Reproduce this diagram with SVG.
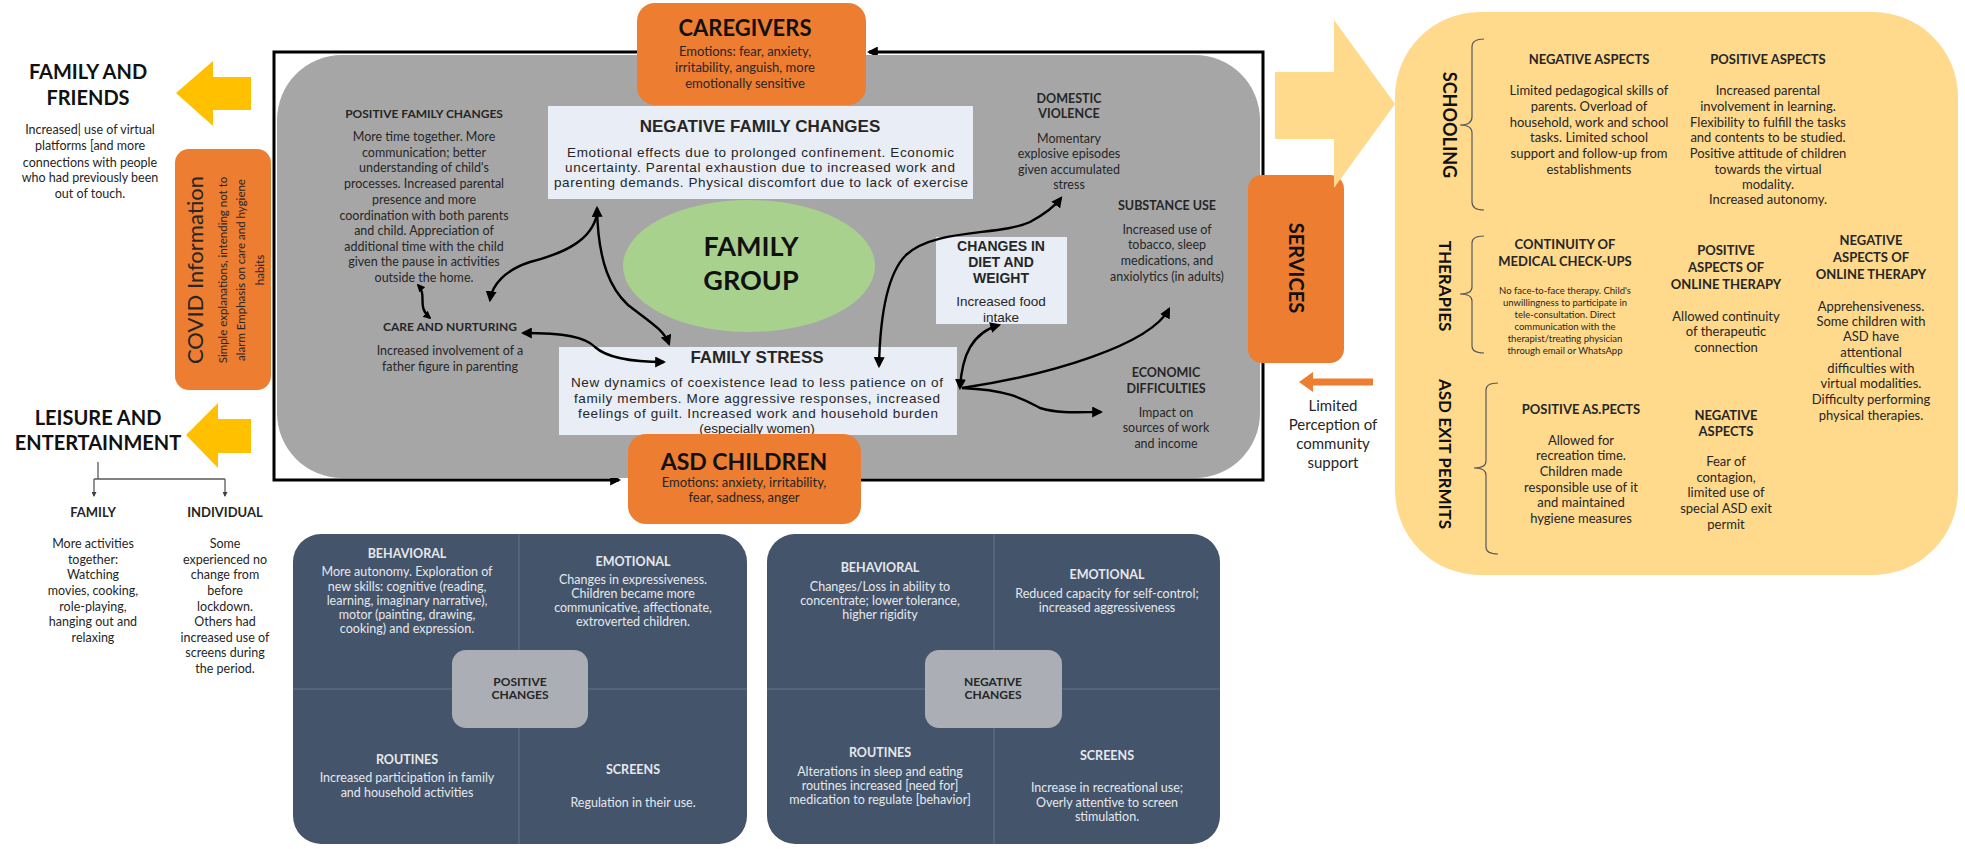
<svg xmlns="http://www.w3.org/2000/svg" width="1965" height="849" viewBox="0 0 1965 849">
<defs>
<marker id="ah" viewBox="0 0 10 10" markerWidth="11" markerHeight="11" refX="8" refY="5" orient="auto-start-reverse" markerUnits="userSpaceOnUse"><path d="M0,0 L10,5 L0,10 z" fill="#000"/></marker>
<marker id="ahm" viewBox="0 0 10 10" markerWidth="8" markerHeight="8" refX="8" refY="5" orient="auto-start-reverse" markerUnits="userSpaceOnUse"><path d="M0,0 L10,5 L0,10 z" fill="#000"/></marker>
<marker id="ahs" viewBox="0 0 10 10" markerWidth="5" markerHeight="5" refX="8" refY="5" orient="auto" markerUnits="userSpaceOnUse"><path d="M0,0 L10,5 L0,10 z" fill="#404040"/></marker>
<style>
text{font-family:Lato,"Open Sans",sans-serif;fill:#262626;text-anchor:middle}
.b{font-weight:bold}
.a,.a text{font-family:"Liberation Sans",Arial,sans-serif}
.s12{font-size:12.5px}
.s13{font-size:13px}
.w{fill:#E6E8EC}
.h20{font-size:20px;font-weight:bold;fill:#111}
.con{fill:none;stroke:#000;stroke-width:2.4}
.br{fill:none;stroke:#595959;stroke-width:1.2}
.div{stroke:#62728A;stroke-width:1}
.orange{fill:#ED7D31}
.yel{fill:#FFC000}
.lt{fill:#FFD98C}
.box{fill:#E9EDF5}
.pan{fill:#44546A}
.cb{fill:#ABAFB5}
</style>
</defs>

<!-- frame loop connectors -->
<g id="connectors-frame">
<path class="con" style="stroke-width:3" d="M637,52 H274 V480 H619" marker-end="url(#ah)"/>
<path class="con" style="stroke-width:3" d="M861,480 H1263 V52 H869" marker-end="url(#ah)"/>
</g>

<g id="family-group-area">
<rect x="277" y="55" width="983" height="423" rx="65" fill="#A6A6A6"/>
</g>

<g id="family-friends">
<polygon class="yel" points="176,93 213,61 213,77 251,77 251,110 213,110 213,126"/>
<text class="h20" x="88" y="79">FAMILY AND</text>
<text class="h20" x="88" y="105">FRIENDS</text>
<g class="s12">
<text x="90" y="134">Increased| use  of virtual</text>
<text x="90" y="150">platforms [and more</text>
<text x="90" y="167">connections with people</text>
<text x="90" y="182">who had previously been</text>
<text x="90" y="198">out of touch.</text>
</g>
</g>

<g id="covid-info">
<rect class="orange" x="175" y="149" width="96" height="241" rx="14"/>
<g transform="translate(175,270) rotate(-90)">
<text x="0" y="28" style="font-size:22px">COVID Information</text>
<text x="0" y="52" style="font-size:11.5px">Simple explanations, intending not to</text>
<text x="0" y="70" style="font-size:11.5px">alarm Emphasis on care and hygiene</text>
<text x="0" y="89" style="font-size:11.5px">habits</text>
</g>
</g>

<g id="leisure">
<polygon class="yel" points="186,435 218,403 218,419 251,419 251,453 218,453 218,468"/>
<text class="h20" x="98" y="425">LEISURE AND</text>
<text class="h20" x="98" y="450">ENTERTAINMENT</text>
<path d="M98,462 V479 M94,479 H225" fill="none" stroke="#595959" stroke-width="1.3"/>
<path d="M94,479 V496" fill="none" stroke="#595959" stroke-width="1.3" marker-end="url(#ahs)"/>
<path d="M225,479 V496" fill="none" stroke="#595959" stroke-width="1.3" marker-end="url(#ahs)"/>
<text class="b s13" x="93" y="517">FAMILY</text>
<text class="b s13" x="225" y="517">INDIVIDUAL</text>
<g class="s12">
<text x="93" y="548">More activities</text>
<text x="93" y="564">together:</text>
<text x="93" y="579">Watching</text>
<text x="93" y="595">movies, cooking,</text>
<text x="93" y="611">role-playing,</text>
<text x="93" y="626">hanging out and</text>
<text x="93" y="642">relaxing</text>
<text x="225" y="548">Some</text>
<text x="225" y="564">experienced no</text>
<text x="225" y="579">change from</text>
<text x="225" y="595">before</text>
<text x="225" y="611">lockdown.</text>
<text x="225" y="626">Others had</text>
<text x="225" y="642">increased use of</text>
<text x="225" y="657">screens during</text>
<text x="225" y="673">the period.</text>
</g>
</g>

<g id="positive-family-changes">
<text class="b" x="424" y="118" style="font-size:12px">POSITIVE FAMILY CHANGES</text>
<g class="s12">
<text x="424" y="141">More time together. More</text>
<text x="424" y="157">communication; better</text>
<text x="424" y="172">understanding of child's</text>
<text x="424" y="188">processes. Increased parental</text>
<text x="424" y="204">presence and more</text>
<text x="424" y="220">coordination with both parents</text>
<text x="424" y="235">and child. Appreciation of</text>
<text x="424" y="251">additional time with the child</text>
<text x="424" y="266">given the pause in activities</text>
<text x="424" y="282">outside the home.</text>
</g>
</g>

<g id="care-nurturing">
<text class="b" x="450" y="331" style="font-size:12px">CARE AND NURTURING</text>
<text class="s12" x="450" y="355">Increased involvement of a</text>
<text class="s12" x="450" y="371">father figure in parenting</text>
</g>

<g id="negative-family-changes">
<rect class="box" x="548" y="106" width="425" height="93"/>
<text class="a b" x="760" y="132" style="font-size:17px">NEGATIVE FAMILY CHANGES</text>
<g class="a" style="font-size:13.5px">
<text x="567" y="157" textLength="387" lengthAdjust="spacing" style="text-anchor:start">Emotional effects due to prolonged confinement. Economic</text>
<text x="565" y="172" textLength="390" lengthAdjust="spacing" style="text-anchor:start">uncertainty. Parental exhaustion due to increased work and</text>
<text x="554" y="187" textLength="414" lengthAdjust="spacing" style="text-anchor:start">parenting demands. Physical discomfort due to lack of exercise</text>
</g>
</g>

<g id="family-group">
<ellipse cx="749" cy="266" rx="126" ry="66" fill="#A9D18E"/>
<text class="b" x="751" y="256" style="font-size:27px;fill:#111">FAMILY</text>
<text class="b" x="751" y="290" style="font-size:27px;fill:#111">GROUP</text>
</g>

<g id="diet-weight">
<rect class="box" x="936" y="237" width="131" height="87"/>
<text class="a b" x="1001" y="251" style="font-size:14px">CHANGES IN</text>
<text class="a b" x="1001" y="267" style="font-size:14px">DIET AND</text>
<text class="a b" x="1001" y="283" style="font-size:14px">WEIGHT</text>
<text class="a" x="1001" y="306" style="font-size:13.5px">Increased  food</text>
<text class="a" x="1001" y="322" style="font-size:13.5px">intake</text>
</g>

<g id="domestic-violence">
<text class="b s12" x="1069" y="103">DOMESTIC</text>
<text class="b s12" x="1069" y="118">VIOLENCE</text>
<g class="s12">
<text x="1069" y="143">Momentary</text>
<text x="1069" y="158">explosive episodes</text>
<text x="1069" y="174">given accumulated</text>
<text x="1069" y="189">stress</text>
</g>
</g>

<g id="substance-use">
<text class="b s12" x="1167" y="210">SUBSTANCE USE</text>
<g class="s12">
<text x="1167" y="234">Increased use of</text>
<text x="1167" y="249">tobacco, sleep</text>
<text x="1167" y="265">medications, and</text>
<text x="1167" y="281">anxiolytics (in adults)</text>
</g>
</g>

<g id="economic-difficulties">
<text class="b s12" x="1166" y="377">ECONOMIC</text>
<text class="b s12" x="1166" y="393">DIFFICULTIES</text>
<g class="s12">
<text x="1166" y="417">Impact on</text>
<text x="1166" y="432">sources of work</text>
<text x="1166" y="448">and income</text>
</g>
</g>

<g id="family-stress">
<rect class="box" x="559" y="347" width="398" height="88"/>
<text class="a b" x="757" y="363" style="font-size:17px">FAMILY STRESS</text>
<g class="a" style="font-size:13.5px">
<text x="571" y="387" textLength="372" lengthAdjust="spacing" style="text-anchor:start">New dynamics of coexistence lead to less patience on of</text>
<text x="574" y="403" textLength="366" lengthAdjust="spacing" style="text-anchor:start">family members. More aggressive responses, increased</text>
<text x="578" y="418" textLength="360" lengthAdjust="spacing" style="text-anchor:start">feelings of guilt. Increased work and household burden</text>
<text x="757" y="433">(especially women)</text>
</g>
</g>

<g id="connectors">
<path class="con" d="M418,285 C428,296 416,306 430,318" marker-start="url(#ahm)" marker-end="url(#ahm)"/>
<path class="con" d="M597,208 C598,265 612,290 628,305 C650,322 664,330 669,344" marker-start="url(#ah)" marker-end="url(#ah)"/>
<path class="con" d="M597,214 C592,240 565,253 530,262 C505,270 492,285 490,300" marker-end="url(#ah)"/>
<path class="con" d="M523,333 C565,333 585,337 595,347 C607,358 630,362 664,362" marker-start="url(#ah)" marker-end="url(#ah)"/>
<path class="con" d="M879,366 C880,320 886,275 906,255 C935,228 1000,236 1030,222 C1045,214 1055,206 1061,198" marker-start="url(#ah)" marker-end="url(#ah)"/>
<path class="con" d="M960,388 C962,355 972,333 999,325" marker-start="url(#ah)" marker-end="url(#ah)"/>
<path class="con" d="M962,388 C1050,375 1150,345 1169,309" marker-end="url(#ah)"/>
<path class="con" d="M962,388 C1010,390 1025,400 1040,408 C1060,414 1080,412 1101,412" marker-end="url(#ah)"/>
<path d="M1373,382 H1310" fill="none" stroke="#ED7D31" stroke-width="7"/>
<polygon class="orange" points="1299,382 1313,372 1313,392"/>
</g>

<g id="caregivers">
<rect class="orange" x="637" y="3" width="229" height="102" rx="18"/>
<text class="b" x="745" y="36" style="font-size:22px;fill:#111">CAREGIVERS</text>
<text class="s13" x="745" y="56">Emotions: fear, anxiety,</text>
<text class="s13" x="745" y="72">irritability, anguish, more</text>
<text class="s13" x="745" y="88">emotionally sensitive</text>
</g>

<g id="asd-children">
<rect class="orange" x="628" y="434" width="233" height="90" rx="18"/>
<text class="b" x="744" y="470" style="font-size:23px;fill:#111">ASD CHILDREN</text>
<text class="s13" x="744" y="487">Emotions:  anxiety, irritability,</text>
<text class="s13" x="744" y="502">fear, sadness, anger</text>
</g>

<g id="services">
<rect class="orange" x="1248" y="175" width="96" height="188" rx="14"/>
<text class="b" transform="translate(1289,268) rotate(90)" x="0" y="0" style="font-size:20px;fill:#111">SERVICES</text>
<text x="1333" y="411" style="font-size:15px">Limited</text>
<text x="1333" y="430" style="font-size:15px">Perception of</text>
<text x="1333" y="449" style="font-size:15px">community</text>
<text x="1333" y="468" style="font-size:15px">support</text>
</g>

<g id="services-panel">
<polygon class="lt" points="1275,72 1334,72 1334,20 1395,104 1334,188 1334,139 1275,139"/>
<rect class="lt" x="1395" y="12" width="563" height="563" rx="85"/>
<text class="b" transform="translate(1443,125) rotate(90)" x="0" y="0" style="font-size:18px;fill:#111">SCHOOLING</text>
<text class="b" transform="translate(1439,286) rotate(90)" x="0" y="0" style="font-size:17px;fill:#111">THERAPIES</text>
<text class="b" transform="translate(1439,454) rotate(90)" x="0" y="0" style="font-size:17px;fill:#111">ASD EXIT PERMITS</text>
<path class="br" d="M1484,39 Q1472,39 1472,47 V117 Q1472,125 1460,125 Q1472,125 1472,133 V202 Q1472,210 1484,210"/>
<path class="br" d="M1484,236 Q1472,236 1472,243 V287 Q1472,294 1460,294 Q1472,294 1472,301 V346 Q1472,353 1484,353"/>
<path class="br" d="M1498,383 Q1486,383 1486,390 V461 Q1486,468 1474,468 Q1486,468 1486,475 V547 Q1486,554 1498,554"/>

<text class="b s13" x="1589" y="64">NEGATIVE ASPECTS</text>
<g class="s13">
<text x="1589" y="95">Limited pedagogical skills of</text>
<text x="1589" y="111">parents. Overload of</text>
<text x="1589" y="127">household, work and school</text>
<text x="1589" y="142">tasks.  Limited school</text>
<text x="1589" y="158">support and follow-up from</text>
<text x="1589" y="174">establishments</text>
</g>
<text class="b s13" x="1768" y="64">POSITIVE ASPECTS</text>
<g class="s13">
<text x="1768" y="95">Increased parental</text>
<text x="1768" y="111">involvement in learning.</text>
<text x="1768" y="127">Flexibility to fulfill the tasks</text>
<text x="1768" y="142">and contents to be studied.</text>
<text x="1768" y="158">Positive attitude of children</text>
<text x="1768" y="174">towards the virtual</text>
<text x="1768" y="189">modality.</text>
<text x="1768" y="204">Increased autonomy.</text>
</g>

<text class="b s13" x="1565" y="249">CONTINUITY OF</text>
<text class="b s13" x="1565" y="266">MEDICAL CHECK-UPS</text>
<g style="font-size:9.5px">
<text x="1565" y="294">No face-to-face therapy. Child's</text>
<text x="1565" y="306">unwillingness to participate in</text>
<text x="1565" y="318">tele-consultation. Direct</text>
<text x="1565" y="330">communication with the</text>
<text x="1565" y="342">therapist/treating physician</text>
<text x="1565" y="354">through email or WhatsApp</text>
</g>
<text class="b s13" x="1726" y="255">POSITIVE</text>
<text class="b s13" x="1726" y="272">ASPECTS OF</text>
<text class="b s13" x="1726" y="289">ONLINE THERAPY</text>
<g class="s13">
<text x="1726" y="321">Allowed continuity</text>
<text x="1726" y="336">of therapeutic</text>
<text x="1726" y="352">connection</text>
</g>
<text class="b s13" x="1871" y="245">NEGATIVE</text>
<text class="b s13" x="1871" y="262">ASPECTS OF</text>
<text class="b s13" x="1871" y="279">ONLINE THERAPY</text>
<g class="s13">
<text x="1871" y="311">Apprehensiveness.</text>
<text x="1871" y="326">Some children with</text>
<text x="1871" y="341">ASD  have</text>
<text x="1871" y="357">attentional</text>
<text x="1871" y="373">difficulties with</text>
<text x="1871" y="388">virtual modalities.</text>
<text x="1871" y="404">Difficulty performing</text>
<text x="1871" y="420">physical therapies.</text>
</g>

<text class="b s13" x="1581" y="414">POSITIVE AS.PECTS</text>
<g class="s13">
<text x="1581" y="445">Allowed for</text>
<text x="1581" y="460">recreation time.</text>
<text x="1581" y="476">Children made</text>
<text x="1581" y="492">responsible use of it</text>
<text x="1581" y="507">and maintained</text>
<text x="1581" y="523">hygiene measures</text>
</g>
<text class="b s13" x="1726" y="420">NEGATIVE</text>
<text class="b s13" x="1726" y="436">ASPECTS</text>
<g class="s13">
<text x="1726" y="466">Fear of</text>
<text x="1726" y="482">contagion,</text>
<text x="1726" y="497">limited use of</text>
<text x="1726" y="513">special ASD exit</text>
<text x="1726" y="529">permit</text>
</g>
</g>

<g id="positive-changes">
<rect class="pan" x="293" y="534" width="454" height="310" rx="28"/>
<line class="div" x1="519" y1="534" x2="519" y2="844"/>
<line class="div" x1="293" y1="689" x2="747" y2="689"/>
<rect class="cb" x="452" y="650" width="136" height="78" rx="14"/>
<text class="b" x="520" y="686" style="font-size:12px">POSITIVE</text>
<text class="b" x="520" y="699" style="font-size:12px">CHANGES</text>
<g class="s12">
<text class="b w" x="407" y="558">BEHAVIORAL</text>
<text class="w" x="407" y="576">More autonomy. Exploration of</text>
<text class="w" x="407" y="591">new skills: cognitive (reading,</text>
<text class="w" x="407" y="605">learning, imaginary narrative),</text>
<text class="w" x="407" y="619">motor (painting, drawing,</text>
<text class="w" x="407" y="633">cooking) and expression.</text>
<text class="b w" x="633" y="566">EMOTIONAL</text>
<text class="w" x="633" y="584">Changes in expressiveness.</text>
<text class="w" x="633" y="598">Children became more</text>
<text class="w" x="633" y="612">communicative, affectionate,</text>
<text class="w" x="633" y="626">extroverted children.</text>
<text class="b w" x="407" y="764">ROUTINES</text>
<text class="w" x="407" y="782">Increased participation in family</text>
<text class="w" x="407" y="797">and household activities</text>
<text class="b w" x="633" y="774">SCREENS</text>
<text class="w" x="633" y="807">Regulation in their use.</text>
</g>
</g>

<g id="negative-changes">
<rect class="pan" x="767" y="534" width="453" height="310" rx="28"/>
<line class="div" x1="994" y1="534" x2="994" y2="844"/>
<line class="div" x1="767" y1="689" x2="1220" y2="689"/>
<rect class="cb" x="925" y="650" width="137" height="78" rx="14"/>
<text class="b" x="993" y="686" style="font-size:12px">NEGATIVE</text>
<text class="b" x="993" y="699" style="font-size:12px">CHANGES</text>
<g class="s12">
<text class="b w" x="880" y="572">BEHAVIORAL</text>
<text class="w" x="880" y="591">Changes/Loss in ability to</text>
<text class="w" x="880" y="605">concentrate; lower tolerance,</text>
<text class="w" x="880" y="619">higher rigidity</text>
<text class="b w" x="1107" y="579">EMOTIONAL</text>
<text class="w" x="1107" y="598">Reduced capacity for self-control;</text>
<text class="w" x="1107" y="612">increased aggressiveness</text>
<text class="b w" x="880" y="757">ROUTINES</text>
<text class="w" x="880" y="776">Alterations in sleep and eating</text>
<text class="w" x="880" y="790">routines increased [need for]</text>
<text class="w" x="880" y="804">medication to regulate [behavior]</text>
<text class="b w" x="1107" y="760">SCREENS</text>
<text class="w" x="1107" y="792">Increase in recreational use;</text>
<text class="w" x="1107" y="807">Overly attentive to screen</text>
<text class="w" x="1107" y="821">stimulation.</text>
</g>
</g>
</svg>
